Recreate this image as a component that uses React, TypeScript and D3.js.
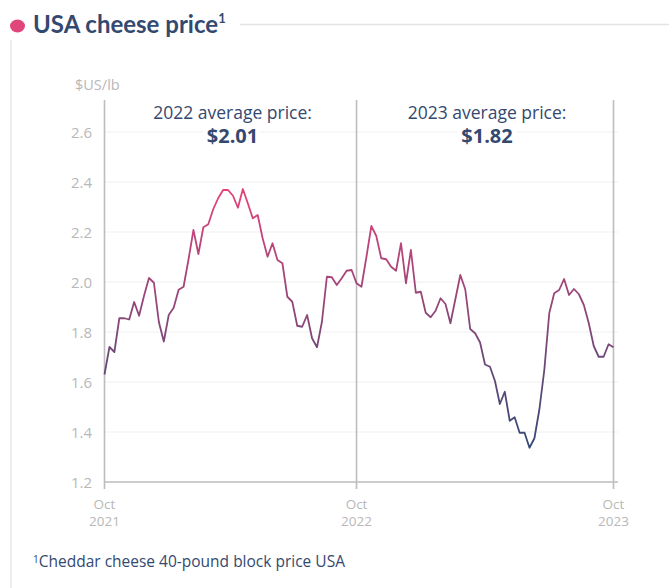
import React from "react";
import * as d3 from "d3";

// weekly cheddar block price, $US/lb, Oct 2021 - Oct 2023
const prices2022 = [
  1.63, 1.74, 1.72, 1.855, 1.855, 1.85, 1.92, 1.865, 1.945, 2.016,
  1.997, 1.84, 1.762, 1.868, 1.897, 1.969, 1.981, 2.09, 2.208, 2.112,
  2.219, 2.231, 2.291, 2.335, 2.368, 2.368, 2.345, 2.297, 2.372, 2.315,
  2.255, 2.268, 2.175, 2.101, 2.155, 2.088, 2.075, 1.941, 1.921, 1.825,
  1.821, 1.868, 1.775, 1.739, 1.841, 2.021, 2.019, 1.988, 2.015, 2.045,
  2.048,
];
const prices2023 = [
  1.995, 1.981, 2.1, 2.224, 2.184, 2.095, 2.091, 2.061, 2.045, 2.155,
  1.995, 2.128, 1.957, 1.961, 1.877, 1.859, 1.885, 1.935, 1.912, 1.835,
  1.931, 2.028, 1.971, 1.812, 1.795, 1.758, 1.67, 1.661, 1.605, 1.512,
  1.561, 1.445, 1.459, 1.397, 1.397, 1.337, 1.375, 1.49, 1.648, 1.875,
  1.955, 1.968, 2.012, 1.948, 1.972, 1.951, 1.908, 1.835, 1.744, 1.701,
  1.701, 1.751, 1.739,
];
const prices = [...prices2022, ...prices2023];

const yTicks = [1.2, 1.4, 1.6, 1.8, 2.0, 2.2, 2.4, 2.6];
const xTickWeeks = [0, 51, 103];
const xTickLabels = [["Oct", "2021"], ["Oct", "2022"], ["Oct", "2023"]];
const averages = [
  { label: "2022 average price:", value: "$2.01", from: 0, to: 51 },
  { label: "2023 average price:", value: "$1.82", from: 51, to: 103 },
];

const navy = "#34496f";
const titleFont = "Lato, 'Open Sans', sans-serif";
const font = "'Open Sans', Lato, sans-serif";

export default function App() {
  const width = 669;
  const height = 588;
  const plotTop = 100;

  const x = d3.scaleLinear().domain([0, prices.length - 1]).range([104.5, 613.5]);
  const y = d3.scaleLinear().domain([1.2, 2.6]).range([482, 132]);
  const xEnd = 618;

  const line = d3
    .line<number>()
    .x((_, i) => x(i))
    .y((d) => y(d));

  const colorScale = d3
    .scaleLinear<string>()
    .domain([1.34, 2.37])
    .range(["#334a78", "#e2437a"])
    .interpolate(d3.interpolateRgb);

  const stops = d3.range(0, 1.0001, 0.1).map((t) => {
    const v = 1.34 + t * (2.37 - 1.34);
    return { offset: `${t * 100}%`, color: colorScale(v) };
  });

  return (
    <svg width={width} height={height} style={{ display: "block", position: "absolute", left: 0, top: 0 }}>
      <defs>
        <linearGradient
          id="priceGrad"
          gradientUnits="userSpaceOnUse"
          x1={0}
          x2={0}
          y1={y(1.34)}
          y2={y(2.37)}
        >
          {stops.map((s) => (
            <stop key={s.offset} offset={s.offset} stopColor={s.color} />
          ))}
        </linearGradient>
      </defs>

      {/* frame */}
      <line x1={11} x2={11} y1={40} y2={height} stroke="#e8e8e8" strokeWidth={1.5} />
      <line x1={240} x2={width} y1={24.5} y2={24.5} stroke="#e3e3e3" strokeWidth={1.5} />

      {/* title */}
      <ellipse cx={17.5} cy={26} rx={7.5} ry={6.5} fill="#e0457b" />
      <text x={33} y={33} fontFamily={titleFont} fontWeight={700} fontSize={24} fill={navy}>
        USA cheese price
        <tspan fontSize={13} dy={-10}>1</tspan>
      </text>

      {/* gridlines */}
      {yTicks.slice(1).map((t) => (
        <line key={t} x1={x(0)} x2={xEnd} y1={y(t)} y2={y(t)} stroke="#f0f0f0" strokeWidth={1.2} />
      ))}

      {/* y labels */}
      {yTicks.map((t) => (
        <text
          key={t}
          x={92}
          y={y(t) + 5.5}
          textAnchor="end"
          fontFamily={font}
          fontSize={15}
          fill="#b8b8b8"
        >
          {t.toFixed(1)}
        </text>
      ))}
      <text x={75} y={90} fontFamily={font} fontSize={14.5} fill="#b8b8b8">
        $US/lb
      </text>

      {/* year dividers */}
      {xTickWeeks.map((w) => (
        <line key={w} x1={x(w)} x2={x(w)} y1={plotTop} y2={y(1.2) + 7} stroke="#bdbdbd" strokeWidth={1.6} />
      ))}
      <line x1={x(0)} x2={xEnd} y1={y(1.2)} y2={y(1.2)} stroke="#bdbdbd" strokeWidth={1.6} />

      {/* x labels */}
      {xTickWeeks.map((w, i) => (
        <g key={w}>
          <text x={x(w)} y={508.5} textAnchor="middle" fontFamily={font} fontSize={13.5} fill="#b8b8b8">
            {xTickLabels[i][0]}
          </text>
          <text x={x(w)} y={525.5} textAnchor="middle" fontFamily={font} fontSize={13.5} fill="#b8b8b8">
            {xTickLabels[i][1]}
          </text>
        </g>
      ))}

      {/* averages */}
      {averages.map((a) => {
        const cx = (x(a.from) + x(a.to)) / 2 + 2;
        return (
          <g key={a.label}>
            <text x={cx} y={119} textAnchor="middle" fontFamily={font} fontSize={17.5} fill={navy}>
              {a.label}
            </text>
            <text
              x={cx}
              y={143}
              textAnchor="middle"
              fontFamily={font}
              fontWeight={700}
              fontSize={20}
              fill={navy}
              stroke="#fff"
              strokeWidth={10}
              paintOrder="stroke"
            >
              {a.value}
            </text>
          </g>
        );
      })}

      {/* price line */}
      <path d={line(prices) ?? ""} fill="none" stroke="url(#priceGrad)" strokeWidth={1.8} strokeLinejoin="round" />

      {/* footnote */}
      <text x={33} y={567} fontFamily={font} fontSize={15.5} fill={navy}>
        <tspan fontSize={10} dy={-4}>1</tspan>
        <tspan dy={4}>Cheddar cheese 40-pound block price USA</tspan>
      </text>
    </svg>
  );
}
